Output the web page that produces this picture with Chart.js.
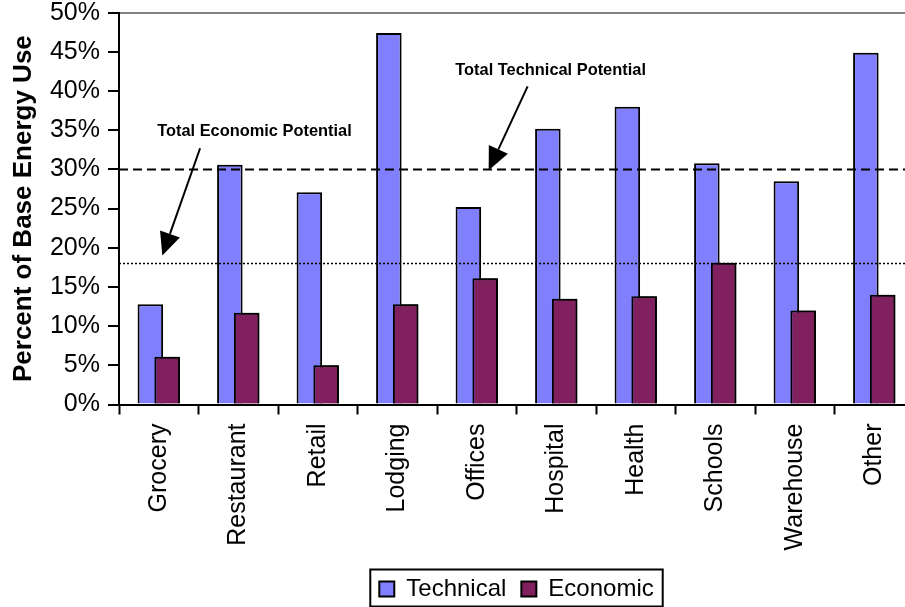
<!DOCTYPE html>
<html>
<head>
<meta charset="utf-8">
<title>Percent of Base Energy Use</title>
<script src="https://cdn.jsdelivr.net/npm/chart.js@4.4.1/dist/chart.umd.min.js"></script>
<style>
  html, body { margin: 0; padding: 0; background: #fff; overflow: hidden; }
  #wrap { width: 935px; height: 611px; }
</style>
</head>
<body>
<div id="wrap"><canvas id="potentialChart" width="935" height="611"></canvas></div>
<script>
// building types
const categories = ['Grocery', 'Restaurant', 'Retail', 'Lodging', 'Offices', 'Hospital', 'Health', 'Schools', 'Warehouse', 'Other'];
// savings as percent of base energy use
const technical = [12.8, 30.6, 27.1, 47.4, 25.2, 35.2, 38.0, 30.8, 28.5, 44.9];
const economic = [6.1, 11.7, 5.0, 12.8, 16.1, 13.5, 13.8, 18.1, 12.0, 14.0];
// y axis ticks
const yTicks = [0, 5, 10, 15, 20, 25, 30, 35, 40, 45, 50];
// totals over all building types
const potentialNames = ['Total Economic Potential', 'Total Technical Potential'];
const potentialTotals = [18.1, 30];

const FONT = '"Liberation Sans", Arial, Helvetica, sans-serif';

// where each callout sits, in (category index, percent)
const callouts = [
  { text: [-0.02, 34.8], from: [0.52, 32.7], to: [0.045, 19.0] },
  { text: [3.73, 42.6], from: [4.64, 40.6], to: [4.15, 29.9] }
];

function drawArrow(ctx, x1, y1, x2, y2) {
  const ang = Math.atan2(y2 - y1, x2 - x1);
  const len = 23, half = 10.5;
  const bx = x2 - len * Math.cos(ang), by = y2 - len * Math.sin(ang);
  ctx.beginPath();
  ctx.moveTo(x1, y1);
  ctx.lineTo(bx, by);
  ctx.lineWidth = 2;
  ctx.strokeStyle = '#000';
  ctx.stroke();
  ctx.beginPath();
  ctx.moveTo(x2, y2);
  ctx.lineTo(bx + half * Math.sin(ang), by - half * Math.cos(ang));
  ctx.lineTo(bx - half * Math.sin(ang), by + half * Math.cos(ang));
  ctx.closePath();
  ctx.fillStyle = '#000';
  ctx.fill();
}

const potentialLines = {
  id: 'potentialLines',
  afterDatasetsDraw(chart) {
    const { ctx, chartArea, scales: { x, y } } = chart;
    // economic bars overlap the technical ones, so paint them again on top
    ctx.save();
    chart.getDatasetMeta(1).controller.draw();
    ctx.restore();

    ctx.save();
    ctx.strokeStyle = '#000';
    // economic total: dotted, technical total: dashed
    const styles = [{ dash: [2, 2], width: 1.5 }, { dash: [9, 5], width: 2 }];
    potentialTotals.forEach((v, i) => {
      const py = Math.round(y.getPixelForValue(v)) + 0.5;
      ctx.beginPath();
      ctx.setLineDash(styles[i].dash);
      ctx.lineWidth = styles[i].width;
      ctx.moveTo(chartArea.left, py);
      ctx.lineTo(chartArea.right, py);
      ctx.stroke();
    });
    ctx.setLineDash([]);

    ctx.font = 'bold 16.4px ' + FONT;
    ctx.fillStyle = '#000';
    ctx.textAlign = 'left';
    ctx.textBaseline = 'middle';
    callouts.forEach((c, i) => {
      ctx.fillText(potentialNames[i], x.getPixelForValue(c.text[0]), y.getPixelForValue(c.text[1]));
      drawArrow(ctx,
        x.getPixelForValue(c.from[0]), y.getPixelForValue(c.from[1]),
        x.getPixelForValue(c.to[0]), y.getPixelForValue(c.to[1]));
    });
    ctx.restore();
  },
  afterDraw(chart) {
    // frame around the legend items
    const boxes = chart.legend.legendHitBoxes;
    if (!boxes || !boxes.length) return;
    const first = boxes[0], last = boxes[boxes.length - 1];
    const ctx = chart.ctx;
    ctx.save();
    ctx.strokeStyle = '#000';
    ctx.lineWidth = 2;
    const left = first.left - 9, right = last.left + last.width + 9;
    const top = first.top - 7.5, bottom = first.top + first.height + 5.5;
    ctx.strokeRect(left, top, right - left, bottom - top);
    ctx.restore();
  }
};

new Chart(document.getElementById('potentialChart'), {
  type: 'bar',
  data: {
    labels: categories,
    datasets: [
      {
        label: 'Technical',
        data: technical,
        backgroundColor: '#8080ff',
        borderColor: '#000',
        borderWidth: 2,
        categoryPercentage: 0.4226,
        barPercentage: 1.52
      },
      {
        label: 'Economic',
        data: economic,
        backgroundColor: '#80205f',
        borderColor: '#000',
        borderWidth: 2,
        categoryPercentage: 0.4226,
        barPercentage: 1.52
      }
    ]
  },
  options: {
    responsive: false,
    animation: false,
    layout: { padding: { left: 0, right: 21, top: 0, bottom: 0 } },
    scales: {
      x: {
        grid: {
          offset: true,
          drawOnChartArea: false,
          tickLength: 10,
          tickColor: '#000',
          tickWidth: 2
        },
        border: { color: '#000', width: 2 },
        ticks: {
          autoSkip: false,
          maxRotation: 90,
          minRotation: 90,
          padding: 9,
          color: '#000',
          font: { family: FONT, size: 25 }
        },
        afterFit(scale) { scale.height = 157.5; }
      },
      y: {
        min: 0,
        max: 50,
        afterBuildTicks(scale) { scale.ticks = yTicks.map(v => ({ value: v })); },
        grid: {
          color: ctx => (ctx.tick && ctx.tick.value === 50 ? '#808080' : 'rgba(0,0,0,0)'),
          lineWidth: 2,
          tickLength: 11,
          tickColor: '#000',
          tickWidth: 2
        },
        border: { color: '#000', width: 2 },
        ticks: {
          padding: 8,
          color: '#000',
          font: { family: FONT, size: 25, lineHeight: 1 },
          callback: v => v + '%'
        },
        title: {
          display: true,
          text: 'Percent of Base Energy Use',
          color: '#000',
          padding: { top: 8, bottom: 0 },
          font: { family: FONT, size: 26, weight: 'bold' }
        },
        afterFit(scale) {
          scale.width = 119;
          scale.paddingTop = 12.7;
          scale.paddingBottom = 0;
        }
      }
    },
    plugins: {
      tooltip: { enabled: false },
      legend: {
        position: 'bottom',
        fullSize: false,
        labels: {
          color: '#000',
          boxWidth: 15,
          boxHeight: 15,
          padding: 15,
          font: { family: FONT, size: 24 }
        }
      }
    }
  },
  plugins: [potentialLines]
});
</script>
</body>
</html>
